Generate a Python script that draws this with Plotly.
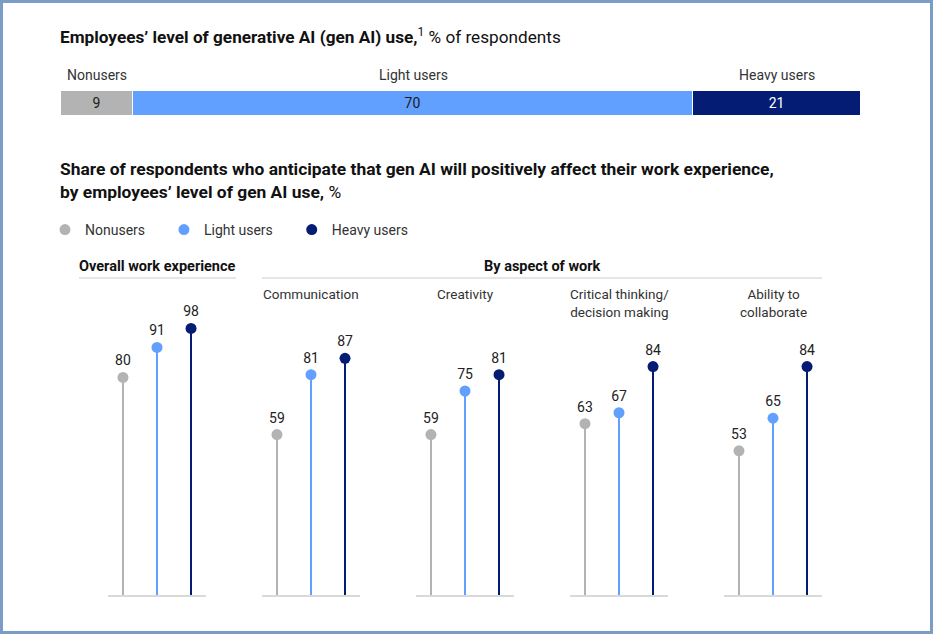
import plotly.graph_objects as go

# --- data -------------------------------------------------------------
usage_groups = ["Nonusers", "Light users", "Heavy users"]
usage_share = [9, 70, 21]

aspects = [
    "Overall work experience",
    "Communication",
    "Creativity",
    "Critical thinking/<br>decision making",
    "Ability to<br>collaborate",
]
nonusers = [80, 59, 59, 63, 53]
light_users = [91, 81, 75, 67, 65]
heavy_users = [98, 87, 81, 84, 84]

COLORS = ["#B3B3B3", "#62A0FF", "#051C75"]
TEXT = "#1A1A1A"
FONT = "Roboto, Arial, sans-serif"

W, H = 933, 634


def fx(px):
    return px / W


def fy(py):
    return 1 - py / H


fig = go.Figure()

# --- top stacked bar --------------------------------------------------
bar_text_colors = [TEXT, TEXT, "white"]
for name, val, col, tcol in zip(usage_groups, usage_share, COLORS, bar_text_colors):
    fig.add_trace(go.Bar(
        x=[val], y=[0], orientation="h", width=1,
        marker=dict(color=col, line=dict(color="white", width=1)),
        text=[str(val)], textposition="inside", insidetextanchor="middle",
        textfont=dict(color=tcol, size=14, family=FONT),
        showlegend=False, hoverinfo="skip", xaxis="x", yaxis="y",
    ))

cum = 0
annotations = []
for name, val in zip(usage_groups, usage_share):
    annotations.append(dict(
        x=cum + val / 2, xref="x", y=fy(75), yref="paper",
        text=name, showarrow=False, xanchor="center", yanchor="middle",
        font=dict(size=14, color="#333333", family=FONT),
    ))
    cum += val

layout_axes = dict(
    xaxis=dict(domain=[fx(61), fx(861)], range=[0, 100], visible=False, fixedrange=True),
    yaxis=dict(domain=[fy(116), fy(91)], range=[-0.5, 0.5], visible=False, fixedrange=True),
)

# --- lollipop panels --------------------------------------------------
series = [nonusers, light_users, heavy_users]
pad = "\u00a0" * 4  # extra room between legend entries
for p in range(len(aspects)):
    ax = p + 2
    xa, ya = f"x{ax}", f"y{ax}"
    left = 108 + 154 * p
    layout_axes[f"xaxis{ax}"] = dict(
        domain=[fx(left), fx(left + 98)], range=[-0.44, 2.44],
        showline=True, linecolor="#D9D9D9", linewidth=2,
        showticklabels=False, ticks="", showgrid=False, zeroline=False,
        anchor=ya, fixedrange=True,
    )
    layout_axes[f"yaxis{ax}"] = dict(
        domain=[fy(595), fy(323)], range=[0, 100], visible=False,
        anchor=xa, fixedrange=True,
    )
    for s, (name, vals, col) in enumerate(zip(usage_groups, series, COLORS)):
        fig.add_trace(go.Bar(
            x=[s], y=[vals[p]], width=0.06, marker=dict(color=col, line=dict(width=0)),
            showlegend=False, hoverinfo="skip", xaxis=xa, yaxis=ya,
        ))
        fig.add_trace(go.Scatter(
            x=[s], y=[vals[p]], mode="markers", cliponaxis=False,
            marker=dict(color=col, size=11),
            name=name + pad, legendgroup=name, showlegend=(p == 0),
            xaxis=xa, yaxis=ya, hovertemplate=f"{name}: %{{y}}%<extra></extra>",
        ))
        # value labels: invisible markers give the text its offset
        fig.add_trace(go.Scatter(
            x=[s], y=[vals[p]], mode="markers+text", text=[str(vals[p])],
            textposition="top center", cliponaxis=False,
            marker=dict(size=12, opacity=0),
            textfont=dict(size=14, color="#222222", family=FONT),
            showlegend=False, hoverinfo="skip", xaxis=xa, yaxis=ya,
        ))
    # panel subtitle
    if p == 0:
        annotations.append(dict(
            x=fx(157), xref="paper", y=fy(266), yref="paper",
            text="<b>" + aspects[p] + "</b>", showarrow=False,
            xanchor="center", yanchor="middle",
            font=dict(size=14.5, color="#111111", family=FONT),
        ))
    else:
        annotations.append(dict(
            x=fx(left + 49), xref="paper", y=fy(284), yref="paper",
            text=aspects[p], showarrow=False, xanchor="center", yanchor="top",
            font=dict(size=13.5, color="#333333", family=FONT),
        ))

annotations.append(dict(
    x=fx(542), xref="paper", y=fy(266), yref="paper",
    text="<b>By aspect of work</b>", showarrow=False,
    xanchor="center", yanchor="middle",
    font=dict(size=14.5, color="#111111", family=FONT),
))

# titles
annotations.append(dict(
    x=fx(58), xref="paper", y=fy(36), yref="paper",
    text="<b>Employees’ level of generative AI (gen AI) use,</b><sup>1</sup> % of respondents",
    showarrow=False, xanchor="left", yanchor="middle",
    font=dict(size=17.2, color="#111111", family=FONT),
))
annotations.append(dict(
    x=fx(58), xref="paper", y=fy(180), yref="paper",
    text=("<b>Share of respondents who anticipate that gen AI will positively affect their work experience,"
          "<br>by employees’ level of gen AI use,</b> %"),
    showarrow=False, xanchor="left", yanchor="middle", align="left",
    font=dict(size=17.4, color="#111111", family=FONT),
))

shapes = [
    dict(type="line", xref="paper", yref="paper", x0=fx(79), x1=fx(236),
         y0=fy(278), y1=fy(278), line=dict(color="#CCCCCC", width=1)),
    dict(type="line", xref="paper", yref="paper", x0=fx(262), x1=fx(822),
         y0=fy(278), y1=fy(278), line=dict(color="#CCCCCC", width=1)),
    dict(type="rect", xref="paper", yref="paper", x0=0, x1=1, y0=0, y1=1,
         line=dict(color="#7A9CC6", width=6)),
]

fig.update_layout(
    width=W, height=H, margin=dict(l=0, r=0, t=0, b=0),
    paper_bgcolor="white", plot_bgcolor="white",
    barmode="stack", bargap=0,
    font=dict(family=FONT, color="#333333"),
    showlegend=True,
    legend=dict(
        orientation="h", x=fx(45), y=fy(230), xanchor="left", yanchor="middle",
        font=dict(size=14, color="#333333", family=FONT),
        itemwidth=30, bgcolor="rgba(0,0,0,0)",
    ),
    annotations=annotations, shapes=shapes,
    **layout_axes,
)

fig.write_html(
    "out.html",
    config={"displayModeBar": False},
    post_script="document.body.style.margin='0px';",
)
